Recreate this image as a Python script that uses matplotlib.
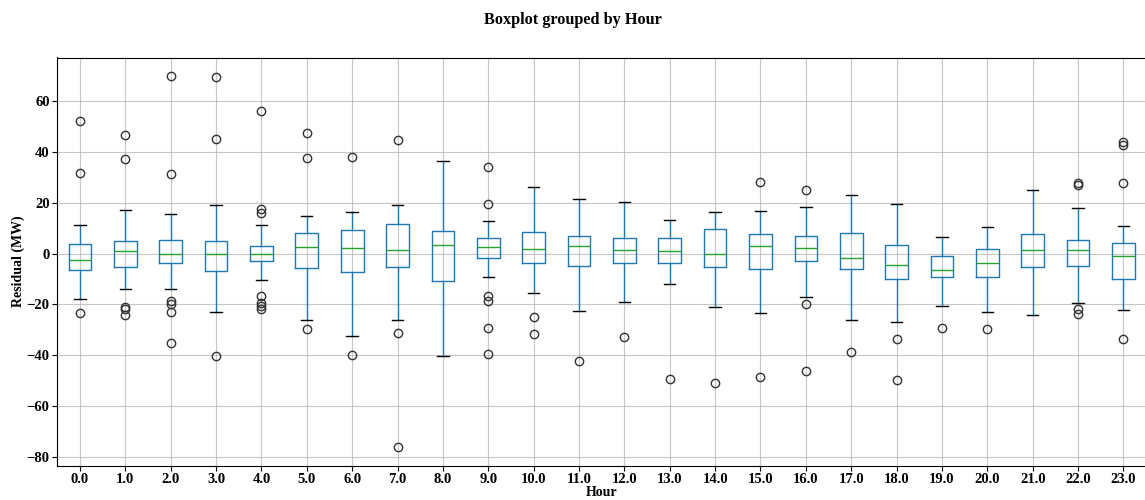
import numpy as np
import matplotlib
matplotlib.use('Agg')
import matplotlib.pyplot as plt

plt.rcParams['font.family'] = ['Liberation Serif', 'DejaVu Serif']
plt.rcParams['font.weight'] = 'bold'
plt.rcParams['axes.labelweight'] = 'bold'
plt.rcParams['figure.titleweight'] = 'bold'

hours = [float(h) for h in range(24)]
tick_labels = ['%.1f' % h for h in hours]

# box statistics (MW)
med = [-2.4, 0.8, -0.2, -0.3, 0.0, 2.4, 2.0, 1.2, 3.5, 2.4, 1.6, 2.8,
       1.2, 0.8, 0.0, 2.8, 2.0, -1.9, -4.7, -6.6, -3.9, 1.2, 1.2, -1.1]
q1 = [-6.6, -5.5, -3.6, -7.0, -2.9, -5.9, -7.4, -5.3, -11.0, -1.7, -3.9, -5.0,
      -3.9, -3.9, -5.5, -6.3, -3.1, -6.3, -10.2, -9.1, -9.1, -5.5, -5.1, -10.0]
q3 = [3.9, 5.0, 5.2, 4.8, 3.0, 7.9, 9.3, 11.7, 8.9, 6.3, 8.5, 6.7,
      6.3, 6.0, 9.7, 7.5, 6.7, 7.9, 3.5, -1.1, 1.8, 7.5, 5.2, 4.2]
whis_lo = [-18.1, -13.8, -14.1, -23.2, -10.6, -26.0, -32.3, -26.0, -40.2, -9.2, -15.5, -22.8,
           -19.2, -12.1, -21.1, -23.6, -17.3, -26.0, -27.0, -20.7, -23.2, -24.4, -19.6, -22.3]
whis_hi = [11.4, 17.3, 15.4, 19.1, 11.4, 14.6, 16.4, 19.1, 36.6, 12.7, 26.2, 21.3,
           20.1, 13.1, 16.5, 16.9, 18.4, 23.1, 19.4, 6.4, 10.5, 25.0, 18.0, 10.9]
fliers = [
    [52.2, 31.7, -23.6],
    [46.6, 37.2, -21.1, -22.0, -24.2],
    [70.1, 31.3, -18.7, -19.7, -23.2, -35.2],
    [69.7, 45.1, -40.4],
    [56.3, 17.4, 16.1, -16.9, -19.4, -20.5, -21.7],
    [47.4, 37.6, -29.7],
    [38.2, -39.8],
    [44.9, -31.5, -76.3],
    [],
    [34.0, 19.4, -16.8, -18.9, -29.3, -39.4],
    [-25.2, -31.9],
    [-42.3],
    [-32.7],
    [-49.6],
    [-51.2],
    [28.3, -48.6],
    [25.0, -20.0, -46.3],
    [-38.6],
    [-33.7, -50.0],
    [-29.3],
    [-29.7],
    [],
    [27.8, 26.8, -21.8, -23.8],
    [43.9, 42.8, 27.7, -33.7],
]

stats = []
for i in range(len(hours)):
    stats.append({'med': med[i], 'q1': q1[i], 'q3': q3[i],
                  'whislo': whis_lo[i], 'whishi': whis_hi[i],
                  'fliers': fliers[i], 'label': tick_labels[i]})

fig = plt.figure(figsize=(11.45, 5), dpi=100)
ax = fig.add_axes([0.050, 0.069, 0.951, 0.816])

ax.bxp(stats, widths=0.5,
       boxprops=dict(color='#1f77b4'),
       whiskerprops=dict(color='#1f77b4'),
       capprops=dict(color='black'),
       medianprops=dict(color='#2ca02c'),
       flierprops=dict(marker='o', markerfacecolor='none', markeredgecolor='#333333',
                       markersize=6))

ax.grid(True, color='#b0b0b0', alpha=0.7, linewidth=0.8)
ax.set_axisbelow(True)
ax.set_ylim(-83.5, 77.2)
ax.set_yticks(np.arange(-80, 61, 20))
ax.tick_params(labelsize=10.5, pad=2)
for t in ax.get_xticklabels() + ax.get_yticklabels():
    t.set_fontweight('bold')
ax.set_xlabel('Hour', fontsize=10, fontweight='bold', labelpad=0)
ax.set_ylabel('Residual (MW)', fontsize=10, fontweight='bold')
ax.yaxis.set_label_coords(-0.030, 0.5)
fig.suptitle('Boxplot grouped by Hour', fontsize=11.7, fontweight='bold', y=0.975)

fig.savefig('out.png')
